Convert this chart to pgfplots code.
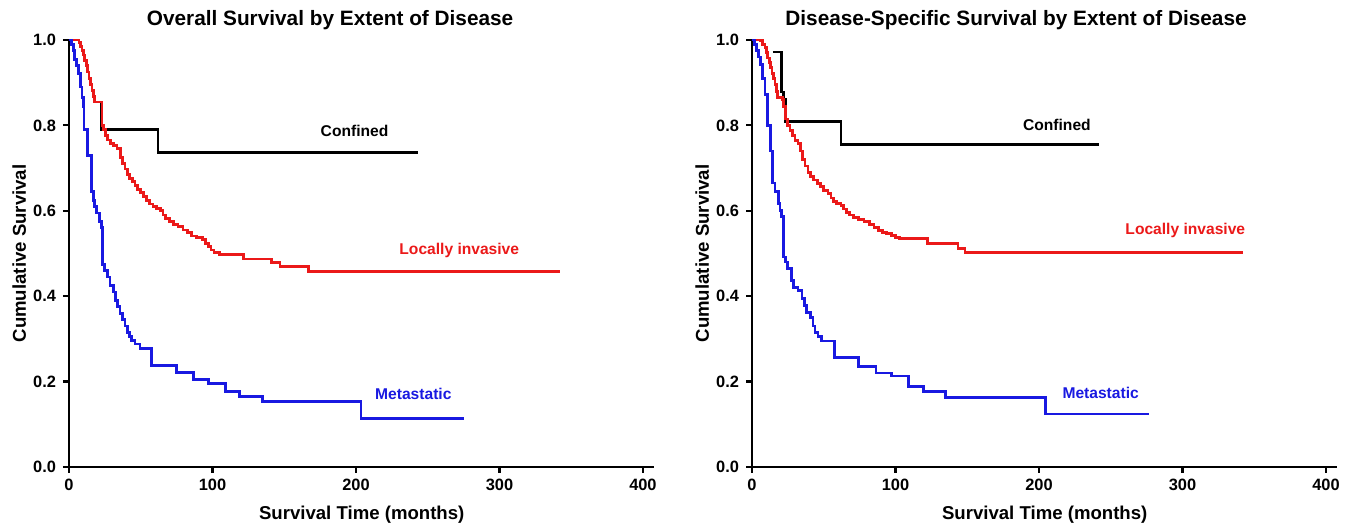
\documentclass[border=0pt]{standalone}
\usepackage{pgfplots}
\pgfplotsset{compat=1.18}
\usepackage{fontspec}
\setmainfont{Liberation Sans}

\definecolor{kmred}{RGB}{235,25,25}
\definecolor{kmblue}{RGB}{25,25,225}

\tikzset{tag/.style={font=\bfseries\fontsize{7.8}{9}\selectfont, anchor=center}}

\pgfplotsset{
  kmaxis/.style={
    scale only axis,
    width=292.7pt, height=213.5pt,
    xmin=0, xmax=408, ymin=0, ymax=1,
    axis x line=bottom, axis y line=left,
    axis line style={-, line width=1.2pt},
    xtick={0,100,200,300,400},
    ytick={0,0.2,0.4,0.6,0.8,1.0},
    tick align=outside, major tick length=3pt,
    tick style={line width=1.1pt, black},
    /pgf/number format/assume math mode=true,
    yticklabel style={/pgf/number format/.cd, fixed, fixed zerofill, precision=1},
    ticklabel style={font=\bfseries\fontsize{8.2}{10}\selectfont},
    xticklabel style={anchor=base, yshift=-9pt},
    xlabel={Survival Time (months)},
    ylabel={Cumulative Survival},
    label style={font=\bfseries\fontsize{9.3}{11}\selectfont},
    xlabel style={at={(axis description cs:0.5,0)}, anchor=base, yshift=-26.5pt},
    ylabel style={at={(axis description cs:-0.085,0.5)}, anchor=center},
    every axis title shift=0pt,
    title style={font=\bfseries\fontsize{10.4}{12}\selectfont, anchor=base, yshift=7pt},
    clip=false,
    const plot,
    every axis plot/.append style={line width=1.4pt, mark=none},
  },
}

\begin{document}
\begin{tikzpicture}
\useasboundingbox (-34.5pt,-31pt) rectangle (642pt,233.5pt);

% ---- Overall survival ----
\begin{axis}[kmaxis, at={(0pt,0pt)},
  title={Overall Survival by Extent of Disease},
  title style={at={(rel axis cs:0.446,1)}}]
  % confined
  \addplot[black] coordinates {(18,0.855) (22.8,0.79) (62,0.737) (243,0.737)};
  % locally invasive
  \addplot[kmred] coordinates {
    (0,1.0) (7,0.995) (8,0.985) (9,0.975) (10,0.965) (11,0.952) (12,0.94)
    (13,0.925) (14,0.91) (15,0.896) (16,0.882) (17,0.868) (18,0.855)
    (23,0.80) (24,0.79) (25.5,0.776) (27,0.766) (29,0.758) (31,0.752)
    (33.5,0.745) (36,0.725) (37.5,0.71) (39,0.698) (40.5,0.685) (42,0.676)
    (44,0.668) (46,0.659) (48,0.65) (50,0.642) (52,0.634) (54,0.625)
    (56,0.616) (58.5,0.61) (61,0.606) (63.5,0.6) (65.5,0.59) (67.5,0.582)
    (70,0.574) (73,0.568) (76,0.563) (79.5,0.555) (82.5,0.549) (85.5,0.541)
    (89,0.537) (93,0.532) (95,0.524) (97,0.516) (99,0.508) (101,0.502)
    (105,0.497) (121.5,0.487) (141,0.478) (147,0.469) (167,0.457) (342,0.457)};
  % metastatic
  \addplot[kmblue] coordinates {
    (0,1.0) (2,0.99) (3,0.975) (4,0.955) (5,0.94) (6.5,0.922) (8,0.89)
    (9,0.865) (10,0.845) (10.5,0.79) (12.8,0.73) (15.8,0.645) (17,0.625)
    (18,0.61) (19.3,0.595) (21,0.575) (22.8,0.56) (23.5,0.475) (25,0.46)
    (27,0.445) (28.6,0.425) (31,0.41) (32.5,0.39) (34,0.375) (35.5,0.36)
    (37.5,0.345) (39,0.33) (40.5,0.315) (42,0.305) (43.7,0.296) (46,0.288)
    (49.5,0.278) (57.5,0.238) (75,0.221) (87,0.204) (97,0.196) (109,0.176)
    (119,0.165) (135,0.153) (203.5,0.114) (275,0.114)};
  \node[tag, text=black]  at (axis cs:199,0.788) {Confined};
  \node[tag, text=kmred]  at (axis cs:272,0.508) {Locally invasive};
  \node[tag, text=kmblue] at (axis cs:240,0.171) {Metastatic};
\end{axis}

% ---- Disease-specific survival ----
\begin{axis}[kmaxis, at={(341.5pt,0pt)},
  title={Disease-Specific Survival by Extent of Disease},
  title style={at={(rel axis cs:0.451,1)}}]
  \addplot[black] coordinates {(14.5,0.972) (20.7,0.878) (22,0.862) (23.5,0.81) (62,0.755) (242,0.755)};
  \addplot[kmred] coordinates {
    (0,1.0) (6,0.998) (7.5,0.99) (9,0.982) (10,0.97) (11,0.958) (12,0.947)
    (13,0.935) (14,0.922) (15,0.909) (16,0.895) (17,0.88) (18,0.866)
    (21,0.86) (22,0.845) (23.5,0.815) (25,0.8) (26.5,0.788) (28,0.776)
    (30,0.765) (32,0.757) (34,0.74) (35,0.72) (37,0.705) (39,0.69)
    (41,0.68) (43,0.672) (45.5,0.664) (48,0.656) (50,0.648) (53,0.64)
    (55,0.63) (57,0.622) (59,0.617) (62,0.612) (64,0.604) (66,0.596)
    (68,0.59) (71,0.584) (74,0.579) (78,0.574) (82,0.568) (85,0.56)
    (88,0.554) (91,0.55) (94,0.546) (97,0.542) (100,0.538) (103,0.535)
    (122.5,0.524) (143.5,0.512) (148.5,0.502) (342,0.502)};
  \addplot[kmblue] coordinates {
    (0,1.0) (1.5,0.99) (3,0.975) (4.5,0.96) (6,0.942) (7.5,0.91) (9,0.872)
    (10.6,0.80) (12.7,0.74) (14.5,0.665) (16,0.645) (18.2,0.618) (19.5,0.6)
    (20.3,0.587) (22,0.492) (23.5,0.48) (25,0.465) (27.3,0.437) (29,0.42)
    (32,0.413) (34.8,0.395) (36.5,0.378) (38,0.362) (40.9,0.35) (42.5,0.33)
    (43.9,0.315) (46,0.305) (48.5,0.295) (57.6,0.256) (74.2,0.236)
    (86.4,0.22) (97,0.213) (109,0.189) (119.7,0.177) (134.8,0.163)
    (204.5,0.124) (276.7,0.124)};
  \node[tag, text=black]  at (axis cs:212.5,0.802) {Confined};
  \node[tag, text=kmred]  at (axis cs:302,0.554) {Locally invasive};
  \node[tag, text=kmblue] at (axis cs:243,0.173) {Metastatic};
\end{axis}
\end{tikzpicture}
\end{document}
